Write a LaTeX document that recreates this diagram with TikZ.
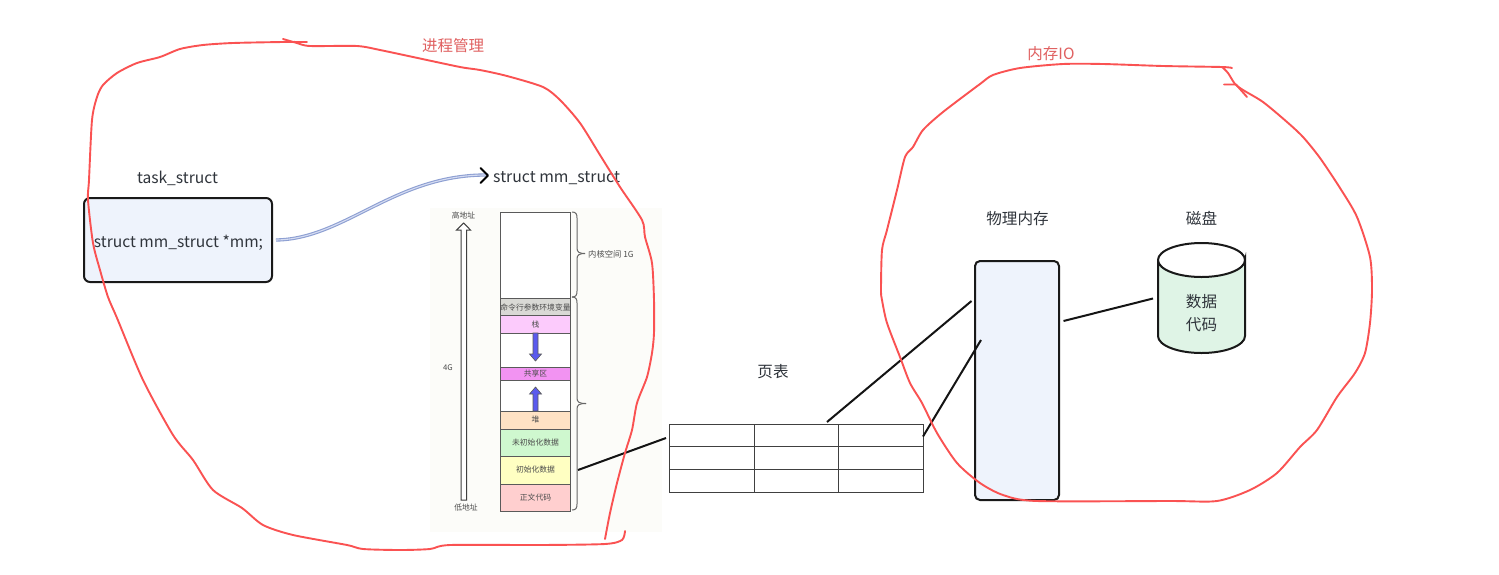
\documentclass[tikz,border=0pt]{standalone}
\usepackage{fontspec}
\setmainfont{Noto Sans CJK SC}
\usetikzlibrary{arrows.meta}
\definecolor{redpen}{HTML}{FA5252}
\definecolor{redtxt}{HTML}{E06060}
\definecolor{ink}{HTML}{2F343B}
\definecolor{boxblue}{HTML}{EEF3FC}
\definecolor{cyl}{HTML}{DFF4E6}
\definecolor{paper}{HTML}{FCFCF9}
\definecolor{seg}{HTML}{5A5A5A}
\definecolor{sgray}{HTML}{D9D9D5}
\definecolor{spink}{HTML}{FCCBFC}
\definecolor{smag}{HTML}{F293F2}
\definecolor{speach}{HTML}{FFE2C4}
\definecolor{sgreen}{HTML}{CFF8CF}
\definecolor{syellow}{HTML}{FFFFC2}
\definecolor{sred}{HTML}{FFCFCF}
\definecolor{sblue}{HTML}{5A5AEE}
\definecolor{curveedge}{HTML}{8D9FD2}
\definecolor{curvemid}{HTML}{D5DCF2}
\tikzset{
  pen/.style={draw=redpen,line width=1.9pt,line cap=round,line join=round},
  lbl/.style={text=ink,font=\fontsize{15.6}{18}\selectfont,inner sep=0pt},
  redlbl/.style={text=redtxt,font=\fontsize{15.5}{18}\selectfont,inner sep=0pt},
  tiny/.style={text=black!70,font=\fontsize{7.8}{9}\selectfont,inner sep=0pt},
  link/.style={draw=black!92,line width=2pt},
  cell/.style={draw=black!75,line width=1pt},
  memseg/.style={draw=seg,line width=1pt},
  bracepath/.style={draw=black!60,line width=1pt},
  bluearrow/.style={draw=seg,fill=sblue,line width=0.6pt},
}
\begin{document}
\begin{tikzpicture}[x=1pt,y=-1pt]
\useasboundingbox (0,0) rectangle (1499,574);
\fill[white] (0,0) rectangle (1499,574);
% paper of the embedded picture
\fill[paper] (430,208) rectangle (662,532);
% task box
\node[draw=black!90,line width=2pt,fill=boxblue,rounded corners=6pt,minimum width=188pt,minimum height=84pt,inner sep=0pt] (task) at (178,240) {};
\node[lbl] (tasktxt) at (178.5,243) {struct mm\_struct *mm;};
\node[lbl] (tasklbl) at (177.5,178) {task\_struct};
\node[lbl,anchor=west,font=\fontsize{15.8}{18}\selectfont] (mm) at (493,178.5) {struct mm\_struct};
\coordinate (a1) at (276,240);
\coordinate (a2) at (488,175);
\draw[draw=curveedge,double=curvemid,double distance=1.1pt,line width=1.1pt] (a1) .. controls (345,239) and (395,174) .. (a2);
\draw[black,line width=2pt,line cap=round,line join=round] (480.5,168) -- (488,175.5) -- (480.5,183);
% memory column
\foreach \a/\b/\c in {212/298/white,298/315/sgray,315/333/spink,333/367/white,367/380/smag,380/411/white,411/429/speach,429/456/sgreen,456/484/syellow,484/511/sred}
  \path[memseg,fill=\c] (500.5,\a) rectangle (570.5,\b);
\node[tiny] (s1) at (535.5,307.5) {命令行参数环境变量};
\node[tiny] (s2) at (535.5,325) {栈};
\node[tiny] (s3) at (535.5,373.5) {共享区};
\node[tiny] (s4) at (535.5,420) {堆};
\node[tiny] (s5) at (535.5,443) {未初始化数据};
\node[tiny] (s6) at (535.5,470) {初始化数据};
\node[tiny] (s7) at (535.5,497.5) {正文代码};
\path[bluearrow] (533,333) -- (538,333) -- (538,354) -- (541.5,354) -- (535.5,361) -- (529.5,354) -- (533,354) -- cycle;
\path[bluearrow] (533,411) -- (538,411) -- (538,394) -- (541.5,394) -- (535.5,387) -- (529.5,394) -- (533,394) -- cycle;
\path[draw=black!75,fill=white,line width=1pt] (461,500) -- (466.5,500) -- (466.5,230) -- (470.5,230) -- (463.7,223) -- (456.5,230) -- (461,230) -- cycle;
\node[tiny] (hi) at (463.5,216) {高地址};
\node[tiny] (lo) at (466,507.5) {低地址};
\node[tiny] (four) at (448,367.5) {4G};
\draw[bracepath] (572,212) .. controls (576,212) and (577,214) .. (577,218) -- (577,248) .. controls (577,252) and (579,253.5) .. (585,253.5);
\draw[bracepath] (572,297) .. controls (576,297) and (577,295) .. (577,291) -- (577,259) .. controls (577,255) and (579,253.5) .. (585,253.5);
\draw[bracepath] (572,297) .. controls (576,297) and (577,299) .. (577,303) -- (577,398) .. controls (577,402) and (579,403.5) .. (586,403.5);
\draw[bracepath] (572,510) .. controls (576,510) and (577,508) .. (577,504) -- (577,409) .. controls (577,405) and (579,403.5) .. (586,403.5);
\node[tiny,anchor=west,font=\fontsize{8.3}{10}\selectfont] (kern) at (588,254.5) {内核空间 1G};
% page table
\draw[cell] (669,424) rectangle (923,492);
\draw[cell] (669,446.5) -- (923,446.5) (669,469) -- (923,469) (754,424) -- (754,492) (838.5,424) -- (838.5,492);
\node[lbl] (pt) at (773,371.5) {页表};
% physical memory
\node[draw=black!90,line width=2pt,fill=boxblue,rounded corners=5pt,minimum width=84pt,minimum height=239pt,inner sep=0pt] (phys) at (1017,380.5) {};
\node[lbl] (physl) at (1017.5,218.5) {物理内存};
% disk
\path[draw=black!90,line width=2pt,fill=cyl] (1158,260) -- (1158,336) arc[x radius=43.5,y radius=17,start angle=180,end angle=0] -- (1245,260) arc[x radius=43.5,y radius=17,start angle=0,end angle=180];
\path[draw=black!90,line width=2pt] (1158,260) arc[x radius=43.5,y radius=17,start angle=180,end angle=360];
\node[lbl] (d1) at (1201.5,301.5) {数据};
\node[lbl] (d2) at (1201.5,324.5) {代码};
\node[lbl] (dl) at (1201.5,218.5) {磁盘};
% connectors
\coordinate (l1) at (578,470); \coordinate (l2) at (666,438);
\coordinate (l3) at (827,422); \coordinate (l4) at (971.5,301);
\coordinate (l5) at (923,436.5); \coordinate (l6) at (981,340);
\coordinate (l7) at (1063.5,321); \coordinate (l8) at (1153,298.5);
\draw[link] (l1) -- (l2);
\draw[link] (l3) -- (l4);
\draw[link] (l5) -- (l6);
\draw[link] (l7) -- (l8);
% red outlines
\draw[pen] plot[smooth,tension=0.45] coordinates {(283,39) (297,43) (310,46) (357,46) (380,50) (413,57) (460,67) (480,70) (507,76) (543,87) (560,100) (580,123) (600,155) (620,187) (642,220) (645,237) (652,263) (654,300) (654,333) (652,353) (647,377) (637,403) (632,430) (625,453) (617,483) (610,513) (605,539)};
\draw[pen] plot[smooth,tension=0.45] coordinates {(625,531) (622,540) (605,544) (540,545) (450,545) (430,549) (400,550) (363,549) (347,545) (293,535) (263,525) (242,508) (213,490) (193,460) (173,435) (143,380) (117,318) (108,297) (100,270) (93,243) (88,200) (89,180) (92,120) (97,97) (103,85) (117,73) (137,63) (160,57) (180,49) (203,45) (233,43) (283,42) (307,42)};
\draw[pen] plot[smooth,tension=0.45] coordinates {(1232,68) (1222,67) (1163,66) (1103,64) (1063,64) (1020,68) (993,75) (980,84) (943,112) (923,130) (913,147) (905,157) (897,190) (887,230) (882,250) (881,290) (882,300) (887,323) (900,357) (910,383) (922,403) (937,433) (957,463) (980,483) (1003,495) (1037,501) (1170,501) (1217,501) (1250,490) (1277,473) (1300,447) (1317,430) (1337,397) (1355,373) (1365,353) (1370,323) (1372,290) (1370,257) (1357,217) (1340,188) (1320,158) (1303,137) (1287,122) (1263,102) (1243,90) (1235,84) (1228,73) (1222,67)};
\draw[pen] (1224,84.5) -- (1236,84.5) -- (1247,97);
\node[redlbl] (rl1) at (453,46) {进程管理};
\node[redlbl] (rl2) at (1051,54) {内存IO};
\end{tikzpicture}
\end{document}
